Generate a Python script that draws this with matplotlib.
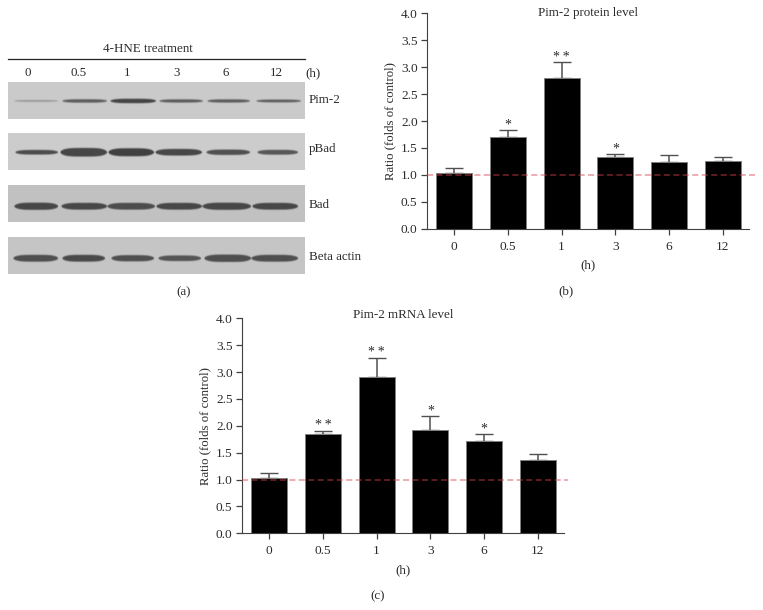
import numpy as np
import matplotlib
matplotlib.use("Agg")
import matplotlib.pyplot as plt

plt.rcParams["font.family"] = ["Liberation Serif", "DejaVu Serif"]

W, H = 763, 610
TEXT_COLOR = "#2b2b2b"
AXIS_COLOR = "#404040"
LABEL_SIZE = 9.4

times = ["0", "0.5", "1", "3", "6", "12"]
y_ticks = [0.0, 0.5, 1.0, 1.5, 2.0, 2.5, 3.0, 3.5, 4.0]

protein_values = [1.03, 1.70, 2.79, 1.33, 1.23, 1.26]
protein_errors = [0.09, 0.14, 0.30, 0.06, 0.13, 0.065]
protein_stars = ["", "*", "*\u2009*", "*", "", ""]

mrna_values = [1.02, 1.85, 2.90, 1.93, 1.71, 1.365]
mrna_errors = [0.10, 0.06, 0.37, 0.26, 0.13, 0.115]
mrna_stars = ["", "*\u2009*", "*\u2009*", "*", "*", ""]

blot_names = ["Pim-2", "pBad", "Bad", "Beta actin"]
# strip top/bottom and band centre line, in image pixels
blot_tops = [82, 133, 185, 237]
blot_bottoms = [119, 170, 222, 274]
blot_mids = [100.7, 152, 206, 258]
blot_label_y = [100, 149, 205, 257]
blot_background = [0.79, 0.80, 0.76, 0.77]
# band left/right edges in image pixels
band_lefts = [
    [14, 62, 110, 159, 207, 256],
    [15, 60, 108, 155, 206, 257],
    [14, 61, 107, 156, 202, 252],
    [13, 62, 111, 158, 204, 251],
]
band_rights = [
    [58, 107, 156, 203, 250, 301],
    [58, 107, 154, 202, 250, 298],
    [58, 107, 155, 202, 251, 298],
    [58, 105, 154, 201, 251, 298],
]
band_thickness = [
    [1.8, 3.4, 4.4, 3.2, 3.2, 2.8],
    [4.6, 8.6, 8.0, 6.6, 5.4, 4.8],
    [7.2, 6.8, 6.8, 6.8, 7.2, 6.8],
    [6.8, 6.8, 6.2, 5.6, 7.4, 6.8],
]
band_darkness = [
    [0.20, 0.42, 0.52, 0.42, 0.42, 0.42],
    [0.50, 0.52, 0.54, 0.52, 0.48, 0.46],
    [0.48, 0.48, 0.46, 0.48, 0.48, 0.48],
    [0.46, 0.48, 0.46, 0.44, 0.46, 0.46],
]


def add_axes_px(fig, left, top, right, bottom):
    return fig.add_axes([left / W, 1 - bottom / H, (right - left) / W, (bottom - top) / H])


def draw_bars(fig, box, values, errors, stars, dash_end):
    left, top, right, bottom = box
    ax = add_axes_px(fig, left, top, right, bottom)
    x = np.arange(len(values))
    ax.bar(x, values, width=0.665, color="black", edgecolor="#808080", linewidth=0.7, zorder=2)
    ax.errorbar(
        x, values, yerr=[np.zeros(len(errors)), errors], fmt="none", ecolor="#505050",
        elinewidth=1.1, capsize=6.5, capthick=1.0, zorder=1,
    )
    ax.plot([0, dash_end], [1, 1], transform=ax.get_yaxis_transform(), color=(0.85, 0.25, 0.3),
            alpha=0.55, linestyle=(0, (4, 2.2)), linewidth=1.1, clip_on=False, zorder=3)
    for xi, v, e, s in zip(x, values, errors, stars):
        if s:
            ax.text(xi, v + e - 0.03, s, ha="center", va="bottom", fontsize=10, color=TEXT_COLOR)

    ax.set_xlim(-0.503, 5.49)
    ax.set_ylim(0, 4)
    ax.set_xticks(x)
    ax.set_xticklabels(times)
    ax.set_yticks(y_ticks)
    ax.set_yticklabels([f"{t:.1f}" for t in y_ticks])
    ax.set_ylabel("Ratio (folds of control)", fontsize=9.2, color=TEXT_COLOR, labelpad=3)
    ax.tick_params(axis="y", length=4.5, width=0.9, color=AXIS_COLOR, labelsize=9.6,
                   labelcolor=TEXT_COLOR, pad=2.5)
    ax.tick_params(axis="x", length=4.5, width=0.9, color=AXIS_COLOR, labelsize=9.6,
                   labelcolor=TEXT_COLOR, pad=4)
    ax.spines["top"].set_visible(False)
    ax.spines["right"].set_visible(False)
    ax.spines["left"].set_color(AXIS_COLOR)
    ax.spines["bottom"].set_color(AXIS_COLOR)
    return ax


def blot_image(row):
    top, bottom = blot_tops[row], blot_bottoms[row]
    xs = np.arange(8, 305, 0.5)
    ys = np.arange(top, bottom, 0.5)
    grid_x, grid_y = np.meshgrid(xs, ys)
    img = np.full(grid_x.shape, blot_background[row])
    for l, r, t, d in zip(band_lefts[row], band_rights[row], band_thickness[row], band_darkness[row]):
        centre, half = (l + r) / 2, (r - l) / 2
        taper = np.clip(1 - np.abs((grid_x - centre) / half) ** 4, 0, 1)
        half_t = t / 2 * taper ** 0.6
        edge = np.clip((half_t + 0.8 - np.abs(grid_y - blot_mids[row])) / 1.6, 0, 1)
        img -= d * edge * (taper > 0)
    return img


def draw_blots(overlay):
    for row, name in enumerate(blot_names):
        overlay.imshow(blot_image(row), cmap="gray", vmin=0, vmax=1, aspect="auto",
                       extent=(8, 305, blot_bottoms[row], blot_tops[row]), interpolation="bilinear", zorder=1)
        overlay.text(309, blot_label_y[row], name, fontsize=LABEL_SIZE, va="center", ha="left", color=TEXT_COLOR)

    overlay.plot([8, 305], [59, 59], color="#222222", linewidth=0.9)
    overlay.text(148, 49, "4-HNE treatment", fontsize=LABEL_SIZE, ha="center", va="center", color=TEXT_COLOR)
    for label, x in zip(times, [28, 79, 127, 177, 226, 276]):
        overlay.text(x, 73, label, fontsize=LABEL_SIZE, ha="center", va="center", color=TEXT_COLOR)
    overlay.text(313, 73, "(h)", fontsize=LABEL_SIZE, ha="center", va="center", color=TEXT_COLOR)


def main():
    fig = plt.figure(figsize=(W / 100, H / 100), dpi=100)

    overlay = fig.add_axes([0, 0, 1, 1])
    overlay.axis("off")
    draw_blots(overlay)
    overlay.set_xlim(0, W)
    overlay.set_ylim(H, 0)

    notes = [
        (184, 292, "(a)"),
        (588, 13, "Pim-2 protein level"),
        (588, 265, "(h)"),
        (566, 291, "(b)"),
        (403, 315, "Pim-2 mRNA level"),
        (403, 570, "(h)"),
        (378, 596, "(c)"),
    ]
    for x, y, s in notes:
        overlay.text(x, y, s, fontsize=LABEL_SIZE, ha="center", va="center", color=TEXT_COLOR, zorder=5)

    draw_bars(fig, (427.3, 13.3, 749, 228.7), protein_values, protein_errors, protein_stars, 1.02)
    draw_bars(fig, (242.3, 318.3, 564, 533.3), mrna_values, mrna_errors, mrna_stars, 1.012)

    for ax in fig.axes[1:]:
        ax.patch.set_alpha(0)

    fig.savefig("out.png", dpi=100)
    plt.close(fig)


if __name__ == "__main__":
    main()
